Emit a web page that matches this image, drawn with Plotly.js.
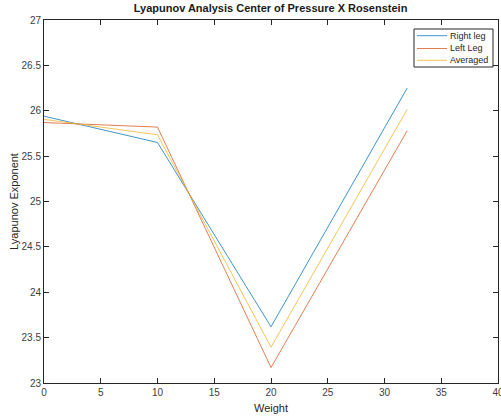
<!DOCTYPE html>
<html>
<head>
<meta charset="utf-8">
<script src="https://cdn.plot.ly/plotly-3.0.1.min.js"></script>
<style>html,body{margin:0;padding:0;background:#fff;}#chart{width:501px;height:417px;}</style>
</head>
<body>
<div id="chart"></div>
<script>
const weights = [0, 10, 20, 32];
const rightLeg = [25.94, 25.65, 23.62, 26.25];
const leftLeg = [25.87, 25.82, 23.17, 25.78];
const averaged = [25.905, 25.735, 23.395, 26.015];
const seriesNames = ["Right leg", "Left Leg", "Averaged"];
const xTicks = [0, 5, 10, 15, 20, 25, 30, 35, 40];
const yTicks = [23, 23.5, 24, 24.5, 25, 25.5, 26, 26.5, 27];

const FONT = "Liberation Sans, Arial, sans-serif";
const colors = ["#0072BD", "#D95319", "#EDB120"];
const traces = [rightLeg, leftLeg, averaged].map((ys, i) => ({
  x: weights, y: ys, name: seriesNames[i], type: "scatter", mode: "lines",
  line: {color: colors[i], width: 1}, opacity: 0.75, showlegend: false
}));

// Custom compact legend (MATLAB style), placed in paper coordinates
const plotL = 44, plotR = 498, plotT = 20, plotB = 383;
const px = v => (v - plotL) / (plotR - plotL);
const py = v => (plotB - v) / (plotB - plotT);
const shapes = [{type: "rect", xref: "paper", yref: "paper",
  x0: px(414), x1: px(493), y0: py(67), y1: py(29),
  line: {color: "#262626", width: 1}, fillcolor: "#fff", layer: "above"}];
const annotations = [];
const rowY = [35.7, 48.5, 60.3];
seriesNames.forEach((name, i) => {
  shapes.push({type: "line", xref: "paper", yref: "paper",
    x0: px(417), x1: px(447), y0: py(rowY[i]), y1: py(rowY[i]),
    line: {color: colors[i], width: 1}, opacity: 0.75, layer: "above"});
  annotations.push({xref: "paper", yref: "paper", x: px(448), y: py(rowY[i]),
    xanchor: "left", yanchor: "middle", showarrow: false, text: name,
    font: {family: FONT, size: 9, color: "#262626"}});
});

const axisCommon = {
  showline: true, linecolor: "#262626", linewidth: 1, mirror: "ticks",
  ticks: "inside", ticklen: 5, tickcolor: "#262626", showgrid: false, zeroline: false,
  tickfont: {family: FONT, size: 10, color: "#404040"}
};

const layout = {
  width: 501, height: 417,
  margin: {l: 44, r: 3, t: 20, b: 34},
  paper_bgcolor: "#fff", plot_bgcolor: "#fff",
  title: {text: "<b>Lyapunov Analysis Center of Pressure X Rosenstein</b>",
    font: {family: FONT, size: 11, color: "#1a1a1a"},
    x: 0.54, xanchor: "center", y: 0.99, yanchor: "top"},
  xaxis: Object.assign({}, axisCommon, {range: [0, 40], tickvals: xTicks, ticktext: xTicks.map(String),
    ticklabeloverflow: "allow",
    title: {text: "Weight", font: {family: FONT, size: 11, color: "#262626"}, standoff: 7}}),
  yaxis: Object.assign({}, axisCommon, {range: [23, 27], tickvals: yTicks, ticktext: yTicks.map(String),
    title: {text: "Lyapunov Exponent", font: {family: FONT, size: 11, color: "#262626"}, standoff: 0}}),
  showlegend: false,
  shapes: shapes,
  annotations: annotations
};

Plotly.newPlot("chart", traces, layout, {displayModeBar: false, staticPlot: true});
</script>
</body>
</html>
